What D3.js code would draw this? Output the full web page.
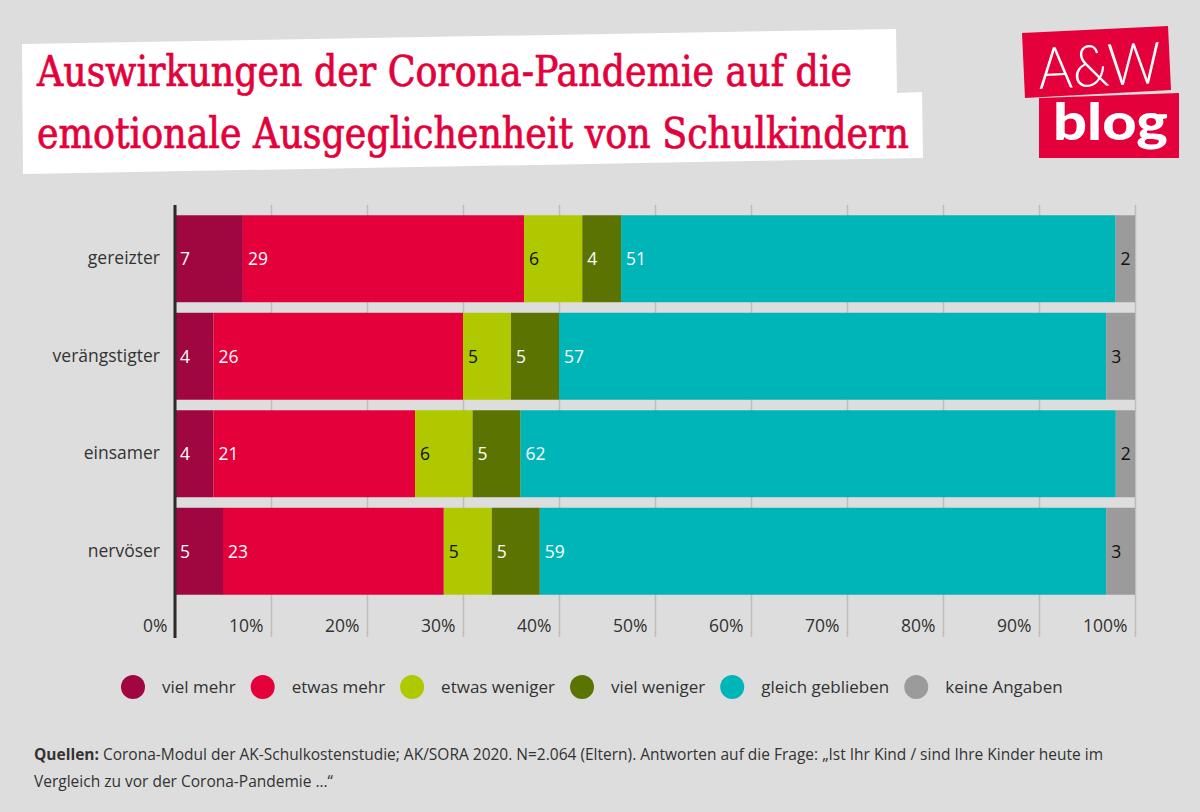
<!DOCTYPE html>
<html>
<head>
<meta charset="utf-8">
<script src="https://cdn.jsdelivr.net/npm/d3@7"></script>
<style>
  html, body { margin: 0; padding: 0; background: #dddddd; }
  svg { display: block; }
</style>
</head>
<body>
<svg id="chart" width="1200" height="812"></svg>
<script>
// ---------- DATA ----------
const categories = ["gereizter", "verängstigter", "einsamer", "nervöser"];
const seriesNames = ["viel mehr", "etwas mehr", "etwas weniger", "viel weniger", "gleich geblieben", "keine Angaben"];
const vielMehr        = [7, 4, 4, 5];
const etwasMehr       = [29, 26, 21, 23];
const etwasWeniger    = [6, 5, 6, 5];
const vielWeniger     = [4, 5, 5, 5];
const gleichGeblieben = [51, 57, 62, 59];
const keineAngaben    = [2, 3, 2, 3];
const tickValues = [0, 0.1, 0.2, 0.3, 0.4, 0.5, 0.6, 0.7, 0.8, 0.9, 1.0];
const titleLines = ["Auswirkungen der Corona-Pandemie auf die", "emotionale Ausgeglichenheit von Schulkindern"];
const sourceBold = "Quellen:";
const sourceLine1 = " Corona-Modul der AK-Schulkostenstudie; AK/SORA 2020. N=2.064 (Eltern). Antworten auf die Frage: „Ist Ihr Kind / sind Ihre Kinder heute im";
const sourceLine2 = "Vergleich zu vor der Corona-Pandemie …“";

// ---------- STYLE ----------
const colors = ["#a0063f", "#e4003a", "#b0c800", "#5b7300", "#00b5b8", "#9b9b9b"];
const labelColors = ["#ffffff", "#ffffff", "#111111", "#ffffff", "#ffffff", "#111111"];
const FONT = "'Open Sans', 'Noto Sans', sans-serif";

const table = categories.map((c, i) => {
  const row = { category: c };
  const vals = [vielMehr, etwasMehr, etwasWeniger, vielWeniger, gleichGeblieben, keineAngaben];
  seriesNames.forEach((s, j) => row[s] = vals[j][i]);
  return row;
});

const stack = d3.stack().keys(seriesNames).offset(d3.stackOffsetExpand);
const stacked = stack(table);

const svg = d3.select("#chart");
svg.append("rect").attr("width", 1200).attr("height", 812).attr("fill", "#dddddd");

// ---------- TITLE BOX ----------
svg.append("path")
  .attr("d", "M22,44 L896,29 L897,93 L922,92 L923,158 L23,174 Z")
  .attr("fill", "#ffffff");
const titleWidths = [815, 872];
titleLines.forEach((t, i) => {
  svg.append("text")
    .attr("x", 37).attr("y", 86 + i * 62)
    .attr("font-family", "'DejaVu Serif Condensed', 'DejaVu Serif', serif")
    .attr("font-size", 42)
    .attr("fill", "#e4003a")
    .attr("stroke", "#e4003a").attr("stroke-width", 0.7)
    .attr("textLength", titleWidths[i])
    .attr("lengthAdjust", "spacingAndGlyphs")
    .text(t);
});

// ---------- LOGO ----------
const logo = svg.append("g");
logo.append("path").attr("d", "M1022,33 L1168,26 L1171,90 L1025,98 Z").attr("fill", "#e4003a");
logo.append("path").attr("d", "M1039,98 L1179,93 L1179,158 L1039,158 Z").attr("fill", "#e4003a");
logo.append("text")
  .attr("x", 1038).attr("y", 86)
  .attr("transform", "rotate(-2.7 1100 65)")
  .attr("font-family", "Lato, sans-serif").attr("font-weight", 300)
  .attr("font-size", 58).attr("fill", "#ffffff")
  .attr("textLength", 123).attr("lengthAdjust", "spacingAndGlyphs")
  .text("A&W");
logo.append("text")
  .attr("x", 1053).attr("y", 140)
  .attr("font-family", "Lato, sans-serif").attr("font-weight", 900)
  .attr("font-size", 52).attr("fill", "#ffffff")
  .attr("textLength", 115).attr("lengthAdjust", "spacingAndGlyphs")
  .text("blog");

// ---------- SCALES ----------
const x = d3.scaleLinear().domain([0, 1]).range([175, 1135]);
const y = d3.scaleBand().domain(categories).range([210, 600]).paddingInner(0.108).paddingOuter(0.054);

// gridlines + tick labels via axis
const gridTop = 205, gridBottom = 637;
const axis = d3.axisBottom(x).tickValues(tickValues).tickFormat(d3.format(".0%"))
  .tickSize(gridBottom - gridTop);
const ag = svg.append("g").attr("transform", `translate(0,${gridTop})`).call(axis);
ag.select(".domain").remove();
ag.selectAll(".tick line").attr("stroke", "#bdbdbd").attr("stroke-width", 1.5);
ag.selectAll(".tick text")
  .attr("x", -8).attr("y", 632 - gridTop).attr("dy", null)
  .attr("text-anchor", "end")
  .attr("font-family", FONT).attr("font-size", 17.5).attr("fill", "#333333");

// bars
const layers = svg.append("g").selectAll("g").data(stacked).join("g")
  .attr("fill", (d, i) => colors[i]);
layers.selectAll("rect").data(d => d.map(v => ({ v, cat: v.data.category }))).join("rect")
  .attr("x", d => x(d.v[0]))
  .attr("width", d => x(d.v[1]) - x(d.v[0]))
  .attr("y", d => y(d.cat))
  .attr("height", y.bandwidth());

// value labels
stacked.forEach((layer, i) => {
  svg.append("g").selectAll("text").data(layer).join("text")
    .attr("x", d => x(d[0]) + 5)
    .attr("y", d => y(d.data.category) + y.bandwidth() / 2)
    .attr("dy", "0.36em")
    .attr("font-family", FONT).attr("font-size", 17.5)
    .attr("fill", labelColors[i])
    .text(d => d.data[layer.key]);
});

// axis line at 0
svg.append("line")
  .attr("x1", x(0)).attr("x2", x(0)).attr("y1", gridTop).attr("y2", gridBottom + 1)
  .attr("stroke", "#2b2b2b").attr("stroke-width", 3);

// category labels
const yAxis = d3.axisLeft(y).tickSize(0).tickPadding(0);
const yg = svg.append("g").attr("transform", "translate(160,0)").call(yAxis);
yg.select(".domain").remove();
yg.selectAll(".tick text")
  .attr("font-family", FONT).attr("font-size", 17.5).attr("fill", "#333333");

// ---------- LEGEND ----------
const legend = svg.append("g");
let lx = 121;
const ly = 687;
seriesNames.forEach((s, i) => {
  legend.append("circle").attr("cx", lx + 12).attr("cy", ly).attr("r", 12).attr("fill", colors[i]);
  const t = legend.append("text")
    .attr("x", lx + 41).attr("y", ly).attr("dy", "0.36em")
    .attr("font-family", FONT).attr("font-size", 17).attr("fill", "#333333")
    .text(s);
  const w = t.node().getComputedTextLength();
  lx = lx + 41 + w + 15;
});

// ---------- SOURCE ----------
const src = svg.append("text")
  .attr("x", 34).attr("y", 760)
  .attr("font-family", FONT).attr("font-size", 15.5).attr("fill", "#333333");
src.append("tspan").attr("font-weight", 700).text(sourceBold);
src.append("tspan").text(sourceLine1);
svg.append("text")
  .attr("x", 34).attr("y", 787)
  .attr("font-family", FONT).attr("font-size", 15.5).attr("fill", "#333333")
  .text(sourceLine2);
</script>
</body>
</html>
